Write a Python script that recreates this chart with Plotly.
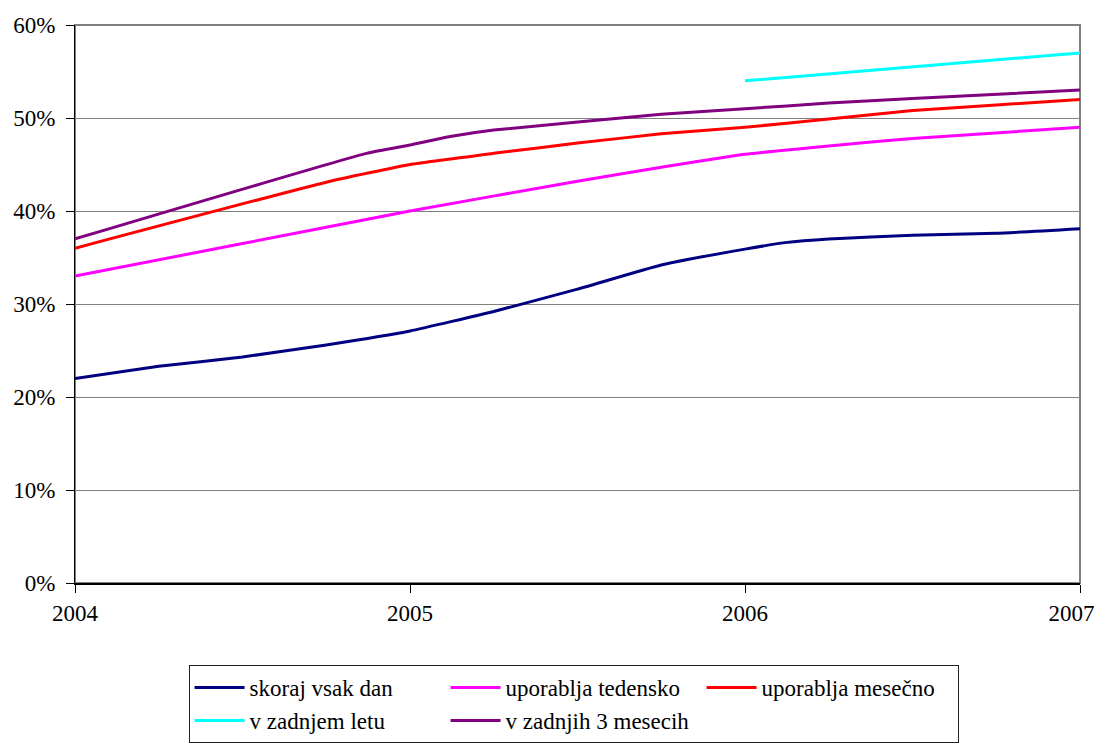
"""Internet use in Slovenia, 2004-2007 — line chart."""
import plotly.graph_objects as go

FONT = 'Times New Roman'

# data (fractional years on x, share of population on y)
x_vsak_dan = [2004, 2004.25, 2004.5, 2004.75, 2005, 2005.25, 2005.5, 2005.75,
              2006, 2006.12, 2006.25, 2006.5, 2006.75, 2007]
y_vsak_dan = [0.220, 0.233, 0.243, 0.256, 0.271, 0.292, 0.316, 0.342,
              0.359, 0.366, 0.370, 0.374, 0.376, 0.381]

x_tedensko = [2004, 2004.5, 2005, 2005.5, 2005.75, 2006, 2006.25, 2006.5, 2007]
y_tedensko = [0.330, 0.365, 0.400, 0.432, 0.447, 0.461, 0.470, 0.478, 0.490]

x_mesecno = [2004, 2004.75, 2005, 2005.25, 2005.5, 2005.75, 2006, 2006.25,
             2006.5, 2006.75, 2007]
y_mesecno = [0.360, 0.431, 0.450, 0.462, 0.473, 0.483, 0.490, 0.499,
             0.508, 0.514, 0.520]

x_letu = [2006, 2007]
y_letu = [0.540, 0.570]

x_3mesecih = [2004, 2004.87, 2005, 2005.12, 2005.25, 2005.75, 2006, 2006.25,
              2006.5, 2007]
y_3mesecih = [0.370, 0.462, 0.471, 0.480, 0.487, 0.504, 0.510, 0.516,
              0.521, 0.530]

year_ticks = [2004, 2005, 2006, 2007]
year_labels = ['2004', '2005', '2006', '2007']
pct_ticks = [0, 0.1, 0.2, 0.3, 0.4, 0.5, 0.6]

series = [
    ('skoraj vsak dan', x_vsak_dan, y_vsak_dan, '#000080'),
    ('uporablja tedensko', x_tedensko, y_tedensko, '#FF00FF'),
    ('uporablja mesečno', x_mesecno, y_mesecno, '#FF0000'),
    ('v zadnjem letu', x_letu, y_letu, '#00FFFF'),
    ('v zadnjih 3 mesecih', x_3mesecih, y_3mesecih, '#800080'),
]

fig = go.Figure()
for name, xs, ys, color in series:
    fig.add_trace(go.Scatter(x=xs, y=ys, name=name, mode='lines',
                             line=dict(color=color, width=3, shape='spline', smoothing=0.4)))

# page body has an 8px margin, so the figure is offset by 8px; bottom of legend box runs off the page
fig.update_layout(
    width=1105, height=780,
    margin=dict(l=67, r=33, t=17, b=205),
    paper_bgcolor='white', plot_bgcolor='white',
    font=dict(family=FONT, size=23, color='black'),
    showlegend=True,
    legend=dict(orientation='h', x=0.113, y=-0.147, xanchor='left', yanchor='top',
                itemwidth=50, entrywidth=191, entrywidthmode='pixels',
                bordercolor='#202020', borderwidth=1,
                font=dict(family=FONT, size=23, color='black')),
    shapes=[dict(type='rect', xref='paper', yref='paper', x0=0, x1=1, y0=0, y1=1,
                 line=dict(color='#808080', width=2), layer='below')],
)
# last year label nudged left a little so it is not clipped at the page edge
x_ticktext = year_labels[:-1] + [year_labels[-1] + '\u00a0' * 3]
fig.update_xaxes(range=[2004, 2007], tickvals=year_ticks, ticktext=x_ticktext,
                 automargin=False,
                 showgrid=False, zeroline=False, showline=True, linecolor='black', linewidth=2,
                 ticks='outside', ticklen=8, tickcolor='black')
fig.update_yaxes(range=[0, 0.6], tickvals=pct_ticks, tickformat='.0%',
                 automargin=False, ticklabelstandoff=6,
                 showgrid=True, gridcolor='#808080', gridwidth=1, zeroline=False,
                 showline=True, linecolor='black', linewidth=1,
                 ticks='outside', ticklen=8, tickcolor='black')

fig.write_html('out.html')
